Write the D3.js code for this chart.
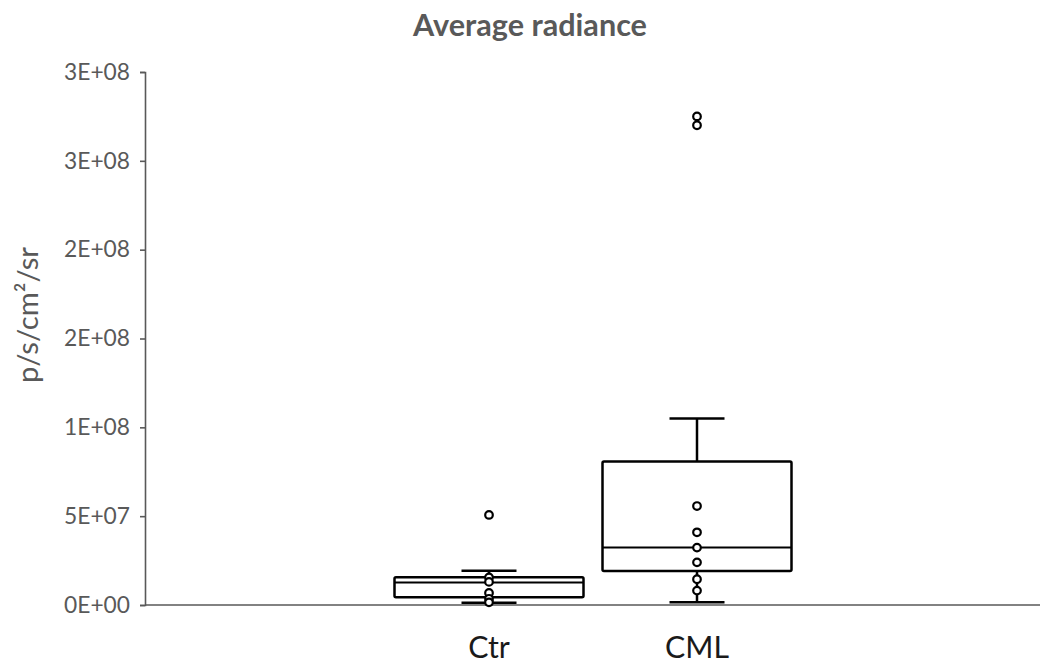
<!DOCTYPE html>
<html><head><meta charset="utf-8">
<script src="https://cdn.jsdelivr.net/npm/d3@7"></script>
<style>body{margin:0;background:#fff;}svg{display:block;}</style>
</head><body>
<svg id="chart" width="1043" height="666"></svg>
<script>
const categories = ["Ctr", "CML"];
const whiskerLow = [1.3e6, 1.5e6];
const q1 = [4.3e6, 1.91e7];
const median = [1.26e7, 3.23e7];
const q3 = [1.56e7, 8.07e7];
const whiskerHigh = [1.93e7, 1.05e8];
const ctrPoints = [5.07e7, 1.55e7, 1.3e7, 6.8e6, 3.5e6, 1.5e6];
const cmlPoints = [2.75e8, 2.70e8, 5.57e7, 4.09e7, 3.23e7, 2.4e7, 1.45e7, 8.1e6];
const yTicks = [0, 5e7, 1e8, 1.5e8, 2e8, 2.5e8, 3e8];
const yTickLabels = ["0E+00", "5E+07", "1E+08", "2E+08", "2E+08", "3E+08", "3E+08"];
const title = "Average radiance";
const yTitle = "p/s/cm\u00B2/sr";

const svg = d3.select("#chart");
const gray = "#595959";
const font = "Lato, 'Open Sans', sans-serif";
const y = d3.scaleLinear().domain([0, 3e8]).range([605, 72]);
const x = d3.scalePoint().domain(categories).range([489, 697]);
const boxW = 189, capW = 55;

function fit(sel, target, base) {
  sel.style("font-size", base + "px");
  const w = sel.node().getComputedTextLength();
  sel.style("font-size", (base * target / w) + "px");
}

// axes
const yAxis = svg.append("g").attr("transform", "translate(145,0)")
  .call(d3.axisLeft(y).tickValues(yTicks).tickSize(5).tickPadding(10)
    .tickFormat((d, i) => yTickLabels[i]));
yAxis.select(".domain").attr("stroke", gray).attr("stroke-width", 1.6);
yAxis.selectAll(".tick line").attr("stroke", gray).attr("stroke-width", 1.6);
const tl = yAxis.selectAll(".tick text").attr("fill", gray).style("font-family", font);
fit(d3.select(tl.nodes()[6]), 66, 20);
tl.style("font-size", d3.select(tl.nodes()[6]).style("font-size"));

svg.append("line").attr("x1", 145).attr("x2", 1040).attr("y1", y(0)).attr("y2", y(0))
  .attr("stroke", gray).attr("stroke-width", 1.6);

// x labels
const xl = svg.selectAll("text.xl").data(categories).join("text").attr("class", "xl")
  .attr("x", d => x(d)).attr("y", 658).attr("text-anchor", "middle")
  .attr("fill", "#1a1a1a").style("font-family", font)
  .text(d => d);
fit(d3.select(xl.nodes()[1]), 64, 26);
xl.style("font-size", d3.select(xl.nodes()[1]).style("font-size"));

// title
const t = svg.append("text").attr("x", 530).attr("y", 36).attr("text-anchor", "middle")
  .attr("fill", gray).style("font-family", font).style("font-weight", "bold")
  .text(title);
fit(t, 234, 26);

const yt = svg.append("text").attr("transform", "translate(38,315) rotate(-90)").attr("text-anchor", "middle")
  .attr("fill", gray).style("font-family", font)
  .text(yTitle);
fit(yt, 136, 26);

// boxes
const g = svg.append("g").attr("stroke", "#000").attr("stroke-width", 2.5).attr("fill", "none");
categories.forEach((c, i) => {
  const cx = x(c);
  g.append("line").attr("x1", cx).attr("x2", cx).attr("y1", y(whiskerHigh[i])).attr("y2", y(q3[i]));
  g.append("line").attr("x1", cx).attr("x2", cx).attr("y1", y(q1[i])).attr("y2", y(whiskerLow[i]));
  g.append("line").attr("x1", cx - capW / 2).attr("x2", cx + capW / 2).attr("y1", y(whiskerHigh[i])).attr("y2", y(whiskerHigh[i]));
  g.append("line").attr("x1", cx - capW / 2).attr("x2", cx + capW / 2).attr("y1", y(whiskerLow[i])).attr("y2", y(whiskerLow[i]));
  g.append("rect").attr("x", cx - boxW / 2).attr("width", boxW)
    .attr("y", y(q3[i])).attr("height", y(q1[i]) - y(q3[i])).attr("rx", 1.5);
  g.append("line").attr("x1", cx - boxW / 2).attr("x2", cx + boxW / 2).attr("y1", y(median[i])).attr("y2", y(median[i])).attr("stroke-width", 2);
});

const pts = [{c: "Ctr", v: ctrPoints}, {c: "CML", v: cmlPoints}];
pts.forEach(p => {
  svg.append("g").selectAll("circle").data(p.v).join("circle")
    .attr("cx", x(p.c)).attr("cy", d => y(d)).attr("r", 3.8)
    .attr("fill", "#fff").attr("stroke", "#000").attr("stroke-width", 2.2);
});
</script>
</body></html>
